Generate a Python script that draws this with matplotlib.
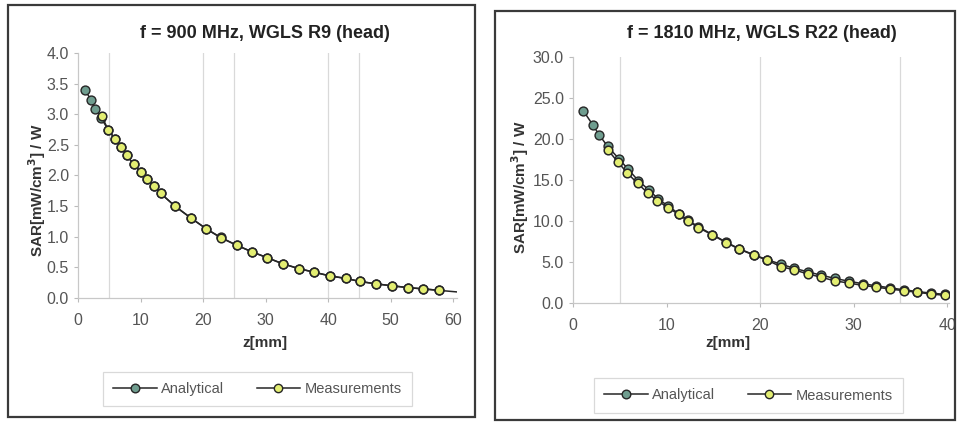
import numpy as np
import matplotlib.pyplot as plt
from matplotlib.patches import Rectangle
from matplotlib.lines import Line2D

plt.rcParams['font.family'] = ['Liberation Sans', 'DejaVu Sans']

# ---- data ----
# f = 900 MHz, WGLS R9
z_ana_900 = [1.1, 2.1, 2.7, 3.7, 4.8, 5.9, 6.9, 7.8, 8.9, 10.0, 11.1, 12.1, 13.2, 15.5, 18.0,
             20.5, 22.8, 25.4, 27.9, 30.2, 32.7, 35.3, 37.8, 40.3, 42.8, 45.1, 47.7, 50.2,
             52.7, 55.1, 57.7, 60.5]
sar_ana_900 = [3.40, 3.23, 3.09, 2.94, 2.75, 2.60, 2.47, 2.33, 2.18, 2.06, 1.94, 1.83, 1.71,
               1.50, 1.31, 1.13, 0.99, 0.86, 0.75, 0.66, 0.56, 0.48, 0.42, 0.36, 0.32, 0.27,
               0.23, 0.20, 0.17, 0.15, 0.125, 0.10]
z_meas_900 = [3.8, 4.8, 5.9, 6.9, 7.8, 8.9, 10.0, 11.1, 12.1, 13.2, 15.5, 18.0, 20.5, 22.8,
              25.4, 27.9, 30.2, 32.7, 35.3, 37.8, 40.3, 42.8, 45.1, 47.7, 50.2, 52.7, 55.1, 57.7]
sar_meas_900 = [2.97, 2.75, 2.60, 2.47, 2.33, 2.18, 2.06, 1.94, 1.83, 1.71, 1.50, 1.31, 1.13,
                0.985, 0.86, 0.75, 0.66, 0.56, 0.48, 0.42, 0.36, 0.32, 0.27, 0.23, 0.20, 0.17,
                0.15, 0.125]

# f = 1810 MHz, WGLS R22
z_ana_1810 = [1.1, 2.1, 2.8, 3.7, 4.9, 5.9, 7.0, 8.1, 9.1, 10.2, 11.3, 12.3, 13.4, 14.9, 16.4,
              17.8, 19.3, 20.7, 22.2, 23.6, 25.1, 26.5, 28.0, 29.5, 31.0, 32.4, 33.9, 35.4,
              36.8, 38.3, 39.8]
sar_ana_1810 = [23.45, 21.75, 20.5, 19.1, 17.6, 16.3, 14.9, 13.8, 12.7, 11.8, 10.9, 10.1, 9.3,
                8.35, 7.4, 6.6, 5.9, 5.3, 4.75, 4.25, 3.8, 3.4, 3.0, 2.65, 2.35, 2.1, 1.85,
                1.6, 1.4, 1.2, 1.05]
z_meas_1810 = [3.7, 4.8, 5.8, 6.9, 8.0, 9.0, 10.2, 11.3, 12.3, 13.4, 14.9, 16.4, 17.8, 19.3,
               20.7, 22.2, 23.6, 25.1, 26.5, 28.0, 29.5, 31.0, 32.4, 33.9, 35.4, 36.8, 38.3, 39.8]
sar_meas_1810 = [18.7, 17.2, 15.85, 14.6, 13.4, 12.5, 11.6, 10.8, 10.0, 9.2, 8.3, 7.35, 6.55,
                 5.85, 5.25, 4.45, 4.05, 3.55, 3.15, 2.7, 2.43, 2.14, 1.94, 1.7, 1.5, 1.3,
                 1.1, 0.93]

ana_face = '#6f9d8f'
meas_face = '#e3ee72'
edge = '#262626'
grey = '#555555'

fig = plt.figure(figsize=(9.58, 4.22), dpi=100)

# outer chart borders (figure pixels -> fractions)
W, H = 958, 422
for (x0, y0, x1, y1) in [(8, 5, 475, 417), (495, 11, 955, 420)]:
    fig.patches.append(Rectangle((x0 / W, 1 - y1 / H), (x1 - x0) / W, (y1 - y0) / H,
                                 transform=fig.transFigure, fill=False,
                                 edgecolor='#3a3a3a', linewidth=1.6))


def panel(rect, za, sa, zm, sm, xmax, xticks, ymax, ystep, grid_x, title,
          title_xy, ylab_xy, xlab_xy, leg_box):
    ax = fig.add_axes(rect)
    for gx in grid_x:
        ax.axvline(gx, color='#d9d9d9', linewidth=0.9, zorder=0)
    ax.plot(za, sa, color=edge, linewidth=1.1, marker='o', markersize=6.4,
            markerfacecolor=ana_face, markeredgecolor=edge, markeredgewidth=1.0,
            markevery=list(range(len(za) - 1)) if xmax > 50 else None, zorder=2)
    ax.plot(zm, sm, color=edge, linewidth=1.1, marker='o', markersize=6.2,
            markerfacecolor=meas_face, markeredgecolor=edge, markeredgewidth=1.1, zorder=3)
    ax.set_xlim(0, xmax)
    ax.set_ylim(0, ymax)
    ax.set_xticks(xticks)
    yt = np.arange(0, ymax + ystep / 2, ystep)
    ax.set_yticks(yt)
    ax.set_yticklabels(['%.1f' % v for v in yt])
    for s in ['top', 'right']:
        ax.spines[s].set_visible(False)
    for s in ['left', 'bottom']:
        ax.spines[s].set_color('#c8c8c8')
        ax.spines[s].set_linewidth(0.9)
    ax.tick_params(axis='both', colors='#bbbbbb', labelcolor=grey, labelsize=11.5,
                   length=3, width=0.8)
    ax.tick_params(axis='x', pad=8)

    fig.text(title_xy[0] / W, 1 - title_xy[1] / H, title, ha='center', va='center',
             fontsize=13, fontweight='bold', color='#222222')
    fig.text(ylab_xy[0] / W, 1 - ylab_xy[1] / H, 'SAR[mW/cm$^{\\mathbf{3}}$] / W',
             ha='center', va='center', rotation=90, fontsize=11, fontweight='bold',
             color='#333333')
    fig.text(xlab_xy[0] / W, 1 - xlab_xy[1] / H, 'z[mm]', ha='center', va='center',
             fontsize=11, fontweight='bold', color='#333333')

    h1 = Line2D([], [], color=edge, linewidth=1.1, marker='o', markersize=6.2,
                markerfacecolor=ana_face, markeredgecolor=edge)
    h2 = Line2D([], [], color=edge, linewidth=1.1, marker='o', markersize=6.0,
                markerfacecolor=meas_face, markeredgecolor=edge)
    x0, y0, x1, y1 = leg_box
    leg = fig.legend([h1, h2], ['Analytical', 'Measurements'], ncol=2,
                     loc='center', bbox_to_anchor=((x0 + x1) / 2 / W, 1 - (y0 + y1) / 2 / H),
                     fontsize=10.5, frameon=True, fancybox=False, handlelength=3.0,
                     handletextpad=0.3, columnspacing=2.2, borderpad=0.7)
    leg.get_frame().set_edgecolor('#d0d0d0')
    leg.get_frame().set_linewidth(0.9)
    for t in leg.get_texts():
        t.set_color(grey)
    return ax


panel([78 / W, 1 - 298 / H, 379 / W, 245 / H],
      z_ana_900, sar_ana_900, z_meas_900, sar_meas_900,
      60.6, [0, 10, 20, 30, 40, 50, 60], 4.0, 0.5, [5, 20, 25, 40, 45],
      'f = 900 MHz, WGLS R9 (head)', (265, 33), (37, 190), (265, 343),
      (102, 373, 413, 405))

panel([573 / W, 1 - 303 / H, 376 / W, 246 / H],
      z_ana_1810, sar_ana_1810, z_meas_1810, sar_meas_1810,
      40.2, [0, 10, 20, 30, 40], 30.0, 5.0, [5, 20, 35],
      'f = 1810 MHz, WGLS R22 (head)', (762, 33), (520, 187), (728, 343),
      (595, 380, 902, 411))

fig.savefig('out.png', dpi=100)
